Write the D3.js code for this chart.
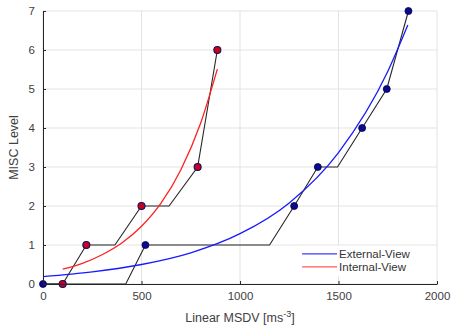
<!DOCTYPE html>
<html>
<head>
<meta charset="utf-8">
<script src="https://cdn.jsdelivr.net/npm/d3@7"></script>
<style>
  body { margin: 0; background: #fff; }
  svg { font-family: "Liberation Sans", Arial, sans-serif; }
</style>
</head>
<body>
<script>
const svgW = 454;
const svgH = 334;

// staircase lines (MSDV, level)
const extLineX = [0, 420, 520, 1150, 1275, 1395, 1495, 1620, 1745, 1855];
const extLineY = [0, 0, 1, 1, 2, 3, 3, 4, 5, 7];
const intLineX = [0, 100, 220, 365, 500, 640, 785, 885];
const intLineY = [0, 0, 1, 1, 2, 2, 3, 6];

// measured points
const extPtX = [0, 520, 1275, 1395, 1620, 1745, 1855];
const extPtY = [0, 1, 2, 3, 4, 5, 7];
const intPtX = [100, 220, 500, 785, 885];
const intPtY = [0, 1, 2, 3, 6];

// fitted curves
const extFitX = [0, 250, 500, 750, 1000, 1250, 1500, 1750, 1852];
const extFitY = [0.19, 0.31, 0.50, 0.80, 1.29, 2.08, 3.37, 5.45, 6.64];
const intFitX = [100, 200, 300, 400, 500, 600, 700, 800, 885];
const intFitY = [0.38, 0.53, 0.75, 1.05, 1.48, 2.08, 2.93, 4.12, 5.51];

const xTicks = [0, 500, 1000, 1500, 2000];
const yTicks = [0, 1, 2, 3, 4, 5, 6, 7];
const legendNames = ['External-View', 'Internal-View'];

const margin = { top: 11, right: 17, bottom: 50, left: 43 };
const w = svgW - margin.left - margin.right;
const h = svgH - margin.top - margin.bottom;

const svg = d3.select('body').append('svg')
  .attr('width', svgW)
  .attr('height', svgH);

const g = svg.append('g')
  .attr('transform', `translate(${margin.left}, ${margin.top})`);

const x = d3.scaleLinear().domain([0, 2000]).range([0, w]);
const y = d3.scaleLinear().domain([0, 7]).range([h, 0]);

// grid
g.append('g').selectAll('line')
  .data(xTicks).enter().append('line')
  .attr('x1', d => x(d)).attr('x2', d => x(d))
  .attr('y1', 0).attr('y2', h)
  .attr('stroke', '#e3e3e3').attr('stroke-width', 1);
g.append('g').selectAll('line')
  .data(yTicks).enter().append('line')
  .attr('x1', 0).attr('x2', w)
  .attr('y1', d => y(d)).attr('y2', d => y(d))
  .attr('stroke', '#e3e3e3').attr('stroke-width', 1);

const zip = (xs, ys) => xs.map((v, i) => [v, ys[i]]);

const line = d3.line().x(d => x(d[0])).y(d => y(d[1]));
const curve = d3.line().x(d => x(d[0])).y(d => y(d[1])).curve(d3.curveMonotoneX);

g.append('path').datum(zip(extLineX, extLineY))
  .attr('d', line).attr('fill', 'none')
  .attr('stroke', '#262626').attr('stroke-width', 1.1);
g.append('path').datum(zip(intLineX, intLineY))
  .attr('d', line).attr('fill', 'none')
  .attr('stroke', '#262626').attr('stroke-width', 1.1);

g.append('path').datum(zip(extFitX, extFitY))
  .attr('d', curve).attr('fill', 'none')
  .attr('stroke', '#1a1aff').attr('stroke-width', 1.3);
g.append('path').datum(zip(intFitX, intFitY))
  .attr('d', curve).attr('fill', 'none')
  .attr('stroke', '#ff2020').attr('stroke-width', 1.3);

g.append('g').selectAll('circle')
  .data(zip(extPtX, extPtY)).enter().append('circle')
  .attr('cx', d => x(d[0])).attr('cy', d => y(d[1]))
  .attr('r', 3.5)
  .attr('fill', '#0a0a8c').attr('stroke', '#000050').attr('stroke-width', 0.8);
g.append('g').selectAll('circle')
  .data(zip(intPtX, intPtY)).enter().append('circle')
  .attr('cx', d => x(d[0])).attr('cy', d => y(d[1]))
  .attr('r', 3.5)
  .attr('fill', '#c8001e').attr('stroke', '#10105a').attr('stroke-width', 1.1);

// axes
const xAxis = d3.axisBottom(x).tickValues(xTicks).tickFormat(d3.format('d'))
  .tickSizeInner(-3).tickSizeOuter(0).tickPadding(8);
const yAxis = d3.axisLeft(y).tickValues(yTicks).tickFormat(d3.format('d'))
  .tickSizeInner(-3).tickSizeOuter(0).tickPadding(8);

const gx = g.append('g').attr('transform', `translate(0, ${h})`).call(xAxis);
const gy = g.append('g').call(yAxis);
[gx, gy].forEach(a => {
  a.select('.domain').attr('stroke', '#262626').attr('stroke-width', 1);
  a.selectAll('.tick line').attr('stroke', '#262626');
  a.selectAll('.tick text').attr('fill', '#404040').style('font-size', '11.5px');
});

// axis titles
const xt = svg.append('text')
  .attr('x', margin.left + w / 2)
  .attr('y', 322)
  .attr('text-anchor', 'middle')
  .attr('fill', '#404040')
  .style('font-size', '12.5px')
  .text('Linear MSDV [ms');
xt.append('tspan').attr('dy', -5).style('font-size', '9px').text('-3');
xt.append('tspan').attr('dy', 5).text(']');

svg.append('text')
  .attr('transform', `translate(18, ${margin.top + h / 2}) rotate(-90)`)
  .attr('text-anchor', 'middle')
  .attr('fill', '#404040')
  .style('font-size', '12.5px')
  .text('MISC Level');

// legend
const leg = g.append('g').attr('transform', `translate(${x(1300)}, ${y(0.98)})`);
leg.append('rect').attr('x', 0).attr('y', 0).attr('width', w - x(1300) - 1).attr('height', 30).attr('fill', '#fff');
const legColors = ['#3a3aff', '#ff5a5a'];
legendNames.forEach((name, i) => {
  const ly = 8 + i * 13;
  leg.append('line').attr('x1', 3).attr('x2', 38).attr('y1', ly).attr('y2', ly)
    .attr('stroke', legColors[i]).attr('stroke-width', 1.2);
  leg.append('text').attr('x', 40).attr('y', ly + 4)
    .attr('fill', '#333').style('font-size', '11.5px').text(name);
});
</script>
</body>
</html>
